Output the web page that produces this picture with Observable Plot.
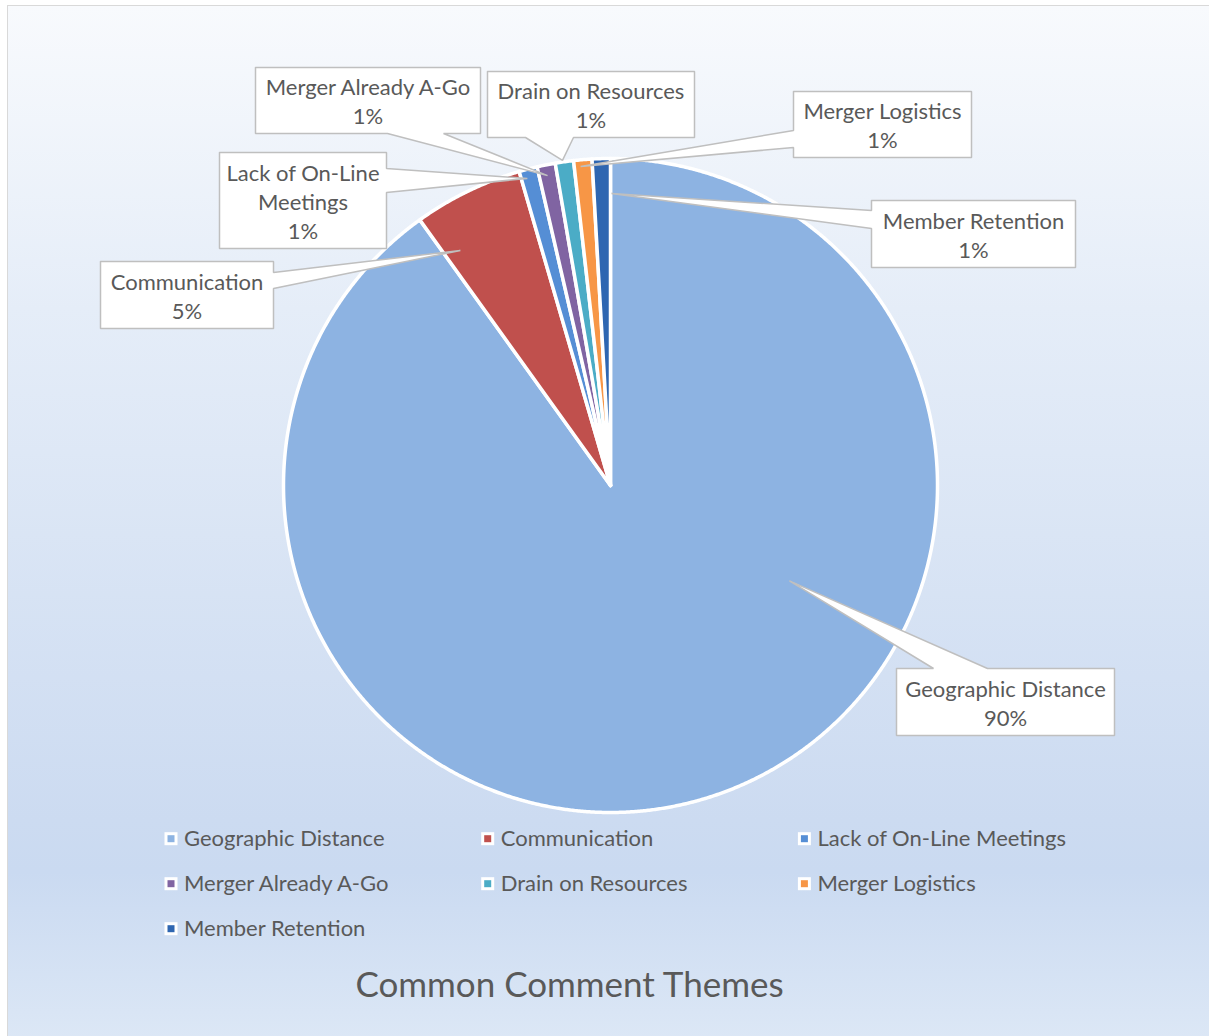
<!DOCTYPE html>
<html>
<head>
<meta charset="utf-8">
<script src="https://cdn.jsdelivr.net/npm/d3@7"></script>
<script src="https://cdn.jsdelivr.net/npm/@observablehq/plot@0.6"></script>
<style>
html, body { margin: 0; padding: 0; background: #ffffff; overflow: hidden; }
#frame {
  position: absolute; left: 7px; top: 5px; width: 1240px; height: 1045px;
  border: 1.5px solid #d9d9d9; box-sizing: border-box;
  background: linear-gradient(to bottom, #f8fafd 0%, #e5edf8 29%, #ccdbf1 78%, #cadaf1 83%, #dde8f6 100%);
}
#chart { position: absolute; left: 0; top: 0; }
</style>
</head>
<body>
<div id="frame"></div>
<div id="chart"></div>
<script>
// ---- data ----
const categories = ["Geographic Distance", "Communication", "Lack of On-Line Meetings", "Merger Already A-Go", "Drain on Resources", "Merger Logistics", "Member Retention"];
const counts = [100, 6, 1, 1, 1, 1, 1];
const calloutNames = ["Geographic Distance", "Communication", "Lack of On-Line\nMeetings", "Merger Already A-Go", "Drain on Resources", "Merger Logistics", "Member Retention"];
const colors = ["#8db3e2", "#c0504d", "#558ed5", "#8064a2", "#4bacc6", "#f79646", "#2e66b1"];
const chartTitle = "Common Comment Themes";

// ---- layout ----
const W = 1209, H = 1036;
const cx = 610, cy = 485, R = 327;
const font = "Lato, 'Open Sans', sans-serif";
const textColor = "#595959";
// callout boxes: [x0, y0, x1, y1], side of pointer, pointer base span, pointer tip (t along slice, radius fraction)
const calloutLayout = [
  {box: [896, 668, 1114, 735], side: "top",    base: [933, 987], t: 0.364, rf: 0.62},
  {box: [100, 261, 273, 328],  side: "right",  base: [272, 288], t: 0.16,  rf: 0.853},
  {box: [219, 152, 386, 248],  side: "right",  base: [168, 192], t: 0.33,  rf: 0.973},
  {box: [255, 67, 480, 133],   side: "bottom", base: [387, 443], t: 0.46,  rf: 0.967},
  {box: [487, 71, 694, 137],   side: "bottom", base: [525, 573], t: 0.41,  rf: 1.005},
  {box: [793, 91, 971, 157],   side: "left",   base: [130, 147], t: 0.35,  rf: 0.98},
  {box: [871, 200, 1075, 267], side: "left",   base: [210, 228], t: 1.06,  rf: 0.893}
];

const total = d3.sum(counts);
const pct = d3.format(".0%");
const arcs = d3.pie().sort(null).value(d => d)(counts);
const polar = (a, r) => ({x: cx + r * Math.sin(a), y: cy - r * Math.cos(a)});

// slice polygons
const slicePts = arcs.map((a, i) => {
  const pts = [{...polar(0, 0)}];
  const n = Math.max(2, Math.ceil((a.endAngle - a.startAngle) / (Math.PI / 720)));
  for (let k = 0; k <= n; k++) {
    const ang = a.startAngle + (a.endAngle - a.startAngle) * k / n;
    pts.push(polar(ang, R));
  }
  pts.push({...polar(0, 0)});
  return pts;
});

// callout polygons
const calloutPolys = calloutLayout.map((c, i) => {
  const a = arcs[i];
  const tip = polar(a.startAngle + (a.endAngle - a.startAngle) * c.t, R * c.rf);
  const [x0, y0, x1, y1] = c.box;
  const [b0, b1] = c.base;
  const pts = [];
  pts.push({x: x0, y: y0});
  if (c.side === "top") pts.push({x: b0, y: y0}, tip, {x: b1, y: y0});
  pts.push({x: x1, y: y0});
  if (c.side === "right") pts.push({x: x1, y: b0}, tip, {x: x1, y: b1});
  pts.push({x: x1, y: y1});
  if (c.side === "bottom") pts.push({x: b1, y: y1}, tip, {x: b0, y: y1});
  pts.push({x: x0, y: y1});
  if (c.side === "left") pts.push({x: x0, y: b1}, tip, {x: x0, y: b0});
  pts.push({x: x0, y: y0});
  return pts;
});

const calloutText = calloutLayout.map((c, i) => ({
  x: (c.box[0] + c.box[2]) / 2,
  y: (c.box[1] + c.box[3]) / 2,
  label: calloutNames[i] + "\n" + pct(counts[i] / total)
}));

// legend
const legend = categories.map((name, i) => {
  const col = i % 3, row = Math.floor(i / 3);
  const sx = 171 + col * 316.7, sy = 838.7 + row * 45;
  return {name, color: colors[i], x1: sx - 5, x2: sx + 5, y1: sy - 5, y2: sy + 5, tx: sx + 12.5, ty: sy};
});

const marks = [];
slicePts.forEach((pts, i) => {
  marks.push(Plot.line(pts, {x: "x", y: "y", fill: colors[i], stroke: "white", strokeWidth: 3.5, strokeLinejoin: "round"}));
});
calloutPolys.forEach(pts => {
  marks.push(Plot.line(pts, {x: "x", y: "y", fill: "white", stroke: "#bfbfbf", strokeWidth: 1.5, strokeLinejoin: "miter"}));
});
marks.push(Plot.text(calloutText, {x: "x", y: "y", text: "label", fontSize: 22, lineHeight: 1.32, fill: textColor, fontFamily: font}));
marks.push(Plot.rect(legend, {x1: "x1", x2: "x2", y1: "y1", y2: "y2", fill: "color", stroke: "white", strokeWidth: 3}));
marks.push(Plot.text(legend, {x: "tx", y: "ty", text: "name", textAnchor: "start", fontSize: 22, fill: textColor, fontFamily: font}));
marks.push(Plot.text([{t: chartTitle, x: 569, y: 985}], {x: "x", y: "y", text: "t", fontSize: 35, fill: textColor, fontFamily: font}));

const chart = Plot.plot({
  width: W, height: H,
  margin: 0,
  x: {domain: [0, W], range: [0, W], axis: null},
  y: {domain: [0, H], range: [0, H], axis: null},
  color: {type: "identity"},
  style: {background: "transparent", fontFamily: font, overflow: "visible"},
  marks
});
document.getElementById("chart").appendChild(chart);
</script>
</body>
</html>
